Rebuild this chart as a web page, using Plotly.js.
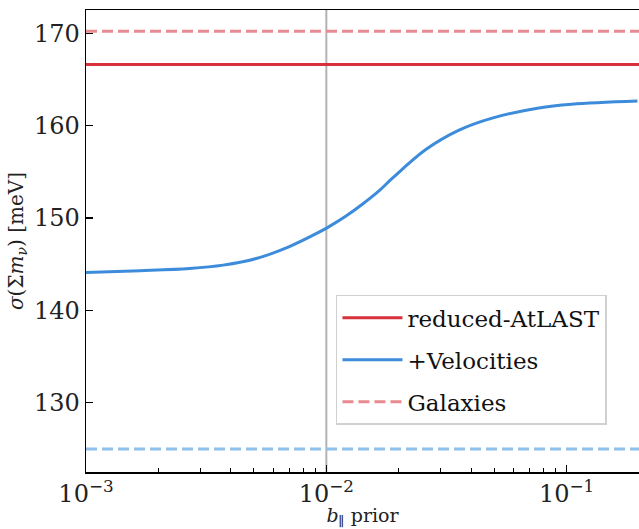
<!DOCTYPE html>
<html>
<head>
<meta charset="utf-8">
<script src="https://cdn.plot.ly/plotly-3.0.1.min.js"></script>
<style>html,body{margin:0;padding:0;background:#fff;}#chart{width:639px;height:529px;}</style>
</head>
<body>
<div id="chart"></div>
<script>
// Data
const bPrior = [0.001, 0.00168, 0.0027, 0.00372, 0.00511, 0.00702, 0.00877, 0.0101, 0.01208, 0.01416, 0.0166, 0.01884, 0.02594, 0.03566, 0.04899, 0.0766, 0.105, 0.197];
const sigmaVel = [144.1, 144.29, 144.53, 144.89, 145.6, 146.9, 148.1, 148.95, 150.2, 151.5, 152.95, 154.3, 157.4, 159.5, 160.8, 161.9, 162.3, 162.65];
const xSpan = [0.001, 0.2];
const reducedAtLAST = 166.6;
const galaxiesRed = 170.2;
const galaxiesBlue = 125.0;
const priorMarker = 0.01;
const yRange = [122.5, 172.5];
const xTickVals = [0.001, 0.01, 0.1];
const xTickText = ['10<sup>−3</sup>', '10<sup>−2</sup>', '10<sup>−1</sup>'];
const yTickVals = [130, 140, 150, 160, 170];

const RED = '#d7323c';
const RED_LIGHT = '#e98a90';
const BLUE = '#3c8cdb';
const BLUE_LIGHT = '#90bfe9';
const FONT = 'DejaVu Serif';

const traces = [
  {x: [priorMarker, priorMarker], y: yRange, mode: 'lines', line: {color: '#b3b3b3', width: 2}, showlegend: false, hoverinfo: 'skip'},
  {x: xSpan, y: [reducedAtLAST, reducedAtLAST], mode: 'lines', name: 'reduced-AtLAST', line: {color: RED, width: 3}, legendgroup: 'a'},
  {x: bPrior, y: sigmaVel, mode: 'lines', name: '+Velocities', line: {color: BLUE, width: 3, shape: 'spline', smoothing: 1}, legendgroup: 'b'},
  {x: xSpan, y: [galaxiesRed, galaxiesRed], mode: 'lines', name: 'Galaxies', line: {color: RED_LIGHT, width: 3, dash: '11px,5px'}, legendgroup: 'c'},
  {x: xSpan, y: [galaxiesBlue, galaxiesBlue], mode: 'lines', line: {color: BLUE_LIGHT, width: 3, dash: '11px,5px'}, showlegend: false}
];

const layout = {
  width: 639, height: 529,
  margin: {l: 86, r: 0, t: 10, b: 57},
  paper_bgcolor: '#fff', plot_bgcolor: '#fff',
  font: {family: FONT, size: 22, color: '#222'},
  showlegend: true,
  legend: {
    x: 0.452, y: 0.102, xanchor: 'left', yanchor: 'bottom',
    bgcolor: 'rgba(255,255,255,0.9)', bordercolor: '#d0d0d0', borderwidth: 1.5,
    font: {family: FONT, size: 23, color: '#111'},
    itemwidth: 60,
    traceorder: 'grouped', tracegroupgap: 9
  },
  xaxis: {
    type: 'log', range: [Math.log10(xSpan[0]), Math.log10(xSpan[1])],
    tickvals: xTickVals, ticktext: xTickText,
    ticks: 'inside', ticklen: 7, tickwidth: 1.2, tickcolor: '#000',
    minor: {ticks: 'inside', ticklen: 4, tickwidth: 1, tickcolor: '#000', dtick: 'D1'},
    showline: true, linecolor: '#000', linewidth: 1.5, mirror: true,
    showgrid: false, zeroline: false,
    tickfont: {family: FONT, size: 24, color: '#222'},
    title: {text: '<i>b</i><sub>∥</sub> prior', font: {family: FONT, size: 19, color: '#222'}, standoff: 4}
  },
  yaxis: {
    range: yRange, tickvals: yTickVals,
    ticks: 'inside', ticklen: 7, tickwidth: 1.2, tickcolor: '#000',
    showline: true, linecolor: '#000', linewidth: 1.5,
    showgrid: false, zeroline: false,
    tickfont: {family: FONT, size: 24, color: '#222'},
    title: {text: '<i>σ</i>(Σ<i>m</i><sub><i>ν</i></sub>) [meV]', font: {family: FONT, size: 20, color: '#222'}, standoff: 5}
  }
};

Plotly.newPlot('chart', traces, layout, {displayModeBar: false, staticPlot: true});
</script>
</body>
</html>
